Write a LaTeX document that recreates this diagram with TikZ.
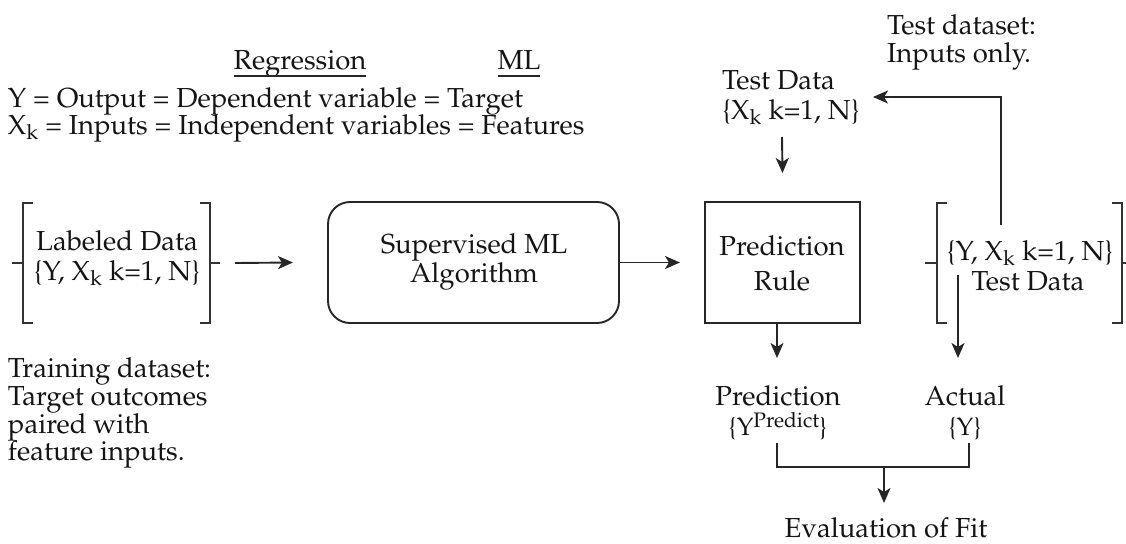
\documentclass[tikz,border=0pt]{standalone}
\usepackage[T1]{fontenc}
\usepackage{mathpazo}
\usetikzlibrary{arrows.meta}
\newcommand\fsmain{\fontsize{27.5}{33}\selectfont}
\newcommand\fssmall{\fontsize{25}{30}\selectfont}
\newcommand\fssup{\fontsize{21}{25}\selectfont}
\begin{document}
\begin{tikzpicture}[x=1pt,y=-1pt,
  every node/.style={inner sep=0pt, outer sep=0pt, font=\fsmain, text=black!92},
  lbl/.style={anchor=base},
  lbll/.style={anchor=base west},
  small/.style={anchor=base, font=\fssmall},
  ln/.style={line width=1.9pt, draw=black!85},
  arr/.style={ln, -{Stealth[length=15pt,width=13pt,inset=4pt]}},
  brk/.style={line width=1.9pt, draw=black!80},
  ghost/.style={minimum width=#1, minimum height=120pt},
]
\useasboundingbox (0,0) rectangle (1126,543);

% header
\node[lbl] (reg) at (300,70) {Regression};
\node[lbl] (ml) at (519,70) {ML};
\draw[line width=1.2pt, draw=black!85] ([yshift=-6pt]reg.base west) -- ([yshift=-6pt]reg.base east);
\draw[line width=1.2pt, draw=black!85] ([yshift=-6pt]ml.base west) -- ([yshift=-6pt]ml.base east);
\node[lbll] (yl) at (8,107) {Y = Output = Dependent variable = Target};
\node[lbll] (xl) at (8,134) {X\textsubscript{k} = Inputs = Independent variables = Features};

% training text
\node[lbll] (tr1) at (8,377) {Training dataset:};
\node[lbll] (tr2) at (8,405) {Target outcomes};
\node[lbll] (tr3) at (8,433) {paired with};
\node[lbll] (tr4) at (8,460) {feature inputs.};

% labeled data bracket
\node[ghost=187pt] (labbox) at (116.5,263) {};
\draw[brk] ([xshift=10pt]labbox.north west) -- (labbox.north west) -- (labbox.south west) -- ([xshift=10pt]labbox.south west);
\draw[brk] ([xshift=-10pt]labbox.north east) -- (labbox.north east) -- (labbox.south east) -- ([xshift=-10pt]labbox.south east);
\draw[brk] (labbox.west) -- ([xshift=-11pt]labbox.west);
\draw[brk] (labbox.east) -- ([xshift=10pt]labbox.east);
\node[lbl] (lab1) at (117,250) {Labeled Data};
\node[lbl] (lab2) at (117,280) {\{Y, X\textsubscript{k} k=1, N\}};

% algorithm
\node[draw, ln, rounded corners=22pt, minimum width=291pt, minimum height=121pt] (alg) at (473.5,262.5) {};
\node[lbl] (alg1) at (474,253) {Supervised ML};
\node[lbl] (alg2) at (474,282) {Algorithm};

% prediction rule
\node[draw, ln, minimum width=155pt, minimum height=121pt] (rule) at (782.5,262.5) {};
\node[lbl] (rule1) at (782,255) {Prediction};
\node[lbl] (rule2) at (782,290) {Rule};

% test data bracket
\node[ghost=185pt] (tbox) at (1029.5,263) {};
\draw[brk] ([xshift=10pt]tbox.north west) -- (tbox.north west) -- (tbox.south west) -- ([xshift=10pt]tbox.south west);
\draw[brk] ([xshift=-10pt]tbox.north east) -- (tbox.north east) -- (tbox.south east) -- ([xshift=-10pt]tbox.south east);
\draw[brk] (tbox.west) -- ([xshift=-12pt]tbox.west);
\draw[brk] (tbox.east) -- ([xshift=6pt]tbox.east);
\node[lbl] (tb1) at (1030,260) {\{Y, X\textsubscript{k} k=1, N\}};
\node[lbl] (tb2) at (1028,290) {Test Data};

% top right texts
\node[lbll] (tds1) at (887,35) {Test dataset:};
\node[lbll] (tds2) at (887,63) {Inputs only.};
\node[lbll] (td1) at (722,89) {Test Data};
\node[lbll] (td2) at (722,119) {\{X\textsubscript{k} k=1, N\}};

% bottom texts
\node[lbl] (pred1) at (778,405) {Prediction};
\node[small] (pred2) at (778,435) {\{Y\raisebox{8pt}{\fssup Predict}\}};
\node[lbl] (act1) at (965,405) {Actual};
\node[small] (act2) at (965,435) {\{Y\}};
\node[lbl] (eval) at (886,537) {Evaluation of Fit};

% connectors
\draw[arr] ([xshift=25pt]labbox.east) -- ([xshift=-35pt]alg.west);
\draw[arr] (alg.east) -- ([xshift=-25pt]rule.west);
\coordinate (a1) at (782,137);
\draw[arr] (a1) -- ([yshift=29pt]rule.north);
\coordinate (fb) at (1001,225);
\coordinate (fbtip) at (873,97);
\draw[arr] (fb) |- (fbtip);
\coordinate (p) at (777,358);
\draw[arr] (rule.south -| p) -- (p);
\coordinate (q0) at (958,275);
\coordinate (q) at (958,358);
\draw[arr] (q0) -- (q);
\coordinate (e1) at (777,443);
\coordinate (e2) at (969,443);
\coordinate (eb) at (884,467);
\coordinate (et) at (884,503);
\draw[ln] (e1) |- (eb) -| (e2);
\draw[arr] (eb) -- (et);
\end{tikzpicture}
\end{document}
